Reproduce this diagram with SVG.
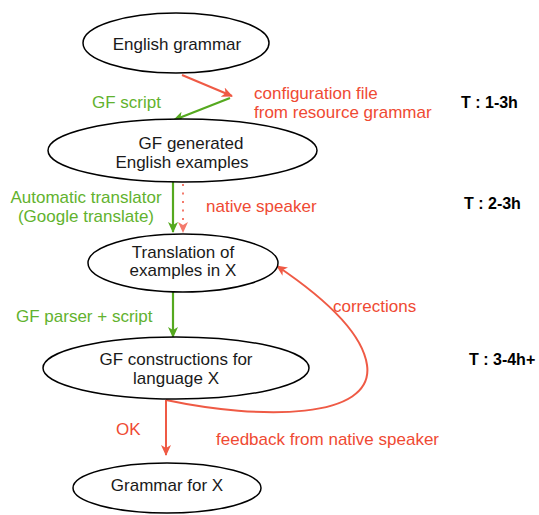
<svg xmlns="http://www.w3.org/2000/svg" width="539" height="515" viewBox="0 0 539 515">
<style>
.node ellipse{fill:#fff;stroke:#000;stroke-width:1.5}
.node text{font-family:"Liberation Sans",Arial,sans-serif;font-size:17px;fill:#1a1a1a;text-anchor:middle}
.lbl{font-family:"Liberation Sans",Arial,sans-serif;font-size:17px}
.red{fill:#ef4a33}
.green{fill:#62b22e}
.time{font-family:"Liberation Sans",Arial,sans-serif;font-size:16px;font-weight:bold;fill:#000}
.er{fill:none;stroke:#ef5a45;stroke-width:2}
.eg{fill:none;stroke:#55a91f;stroke-width:2.2}
</style>
<defs>
<marker id="ar" markerWidth="11" markerHeight="10" refX="10" refY="5" orient="auto" markerUnits="userSpaceOnUse">
<path d="M0,0 L11,5 L0,10 L3,5 z" fill="#ef5a45"/>
</marker>
<marker id="ag" markerWidth="11" markerHeight="10" refX="10" refY="5" orient="auto" markerUnits="userSpaceOnUse">
<path d="M0,0 L11,5 L0,10 L3,5 z" fill="#55a91f"/>
</marker>
<marker id="al" markerWidth="11" markerHeight="10" refX="10" refY="5" orient="auto" markerUnits="userSpaceOnUse">
<path d="M0,0 L11,5 L0,10 L3,5 z" fill="#f47a6c"/>
</marker>
</defs>

<g id="connectors">
<path class="er" d="M182,75 L232,96" marker-end="url(#ar)"/>
<path class="eg" d="M230,98 L174,120" marker-end="url(#ag)"/>
<path class="eg" d="M173,182 L173,232" marker-end="url(#ag)"/>
<path d="M183,184 L183,232" fill="none" stroke="#f47a6c" stroke-width="2" stroke-dasharray="2 6.5" marker-end="url(#al)"/>
<path class="eg" d="M173,292 L173,337" marker-end="url(#ag)"/>
<path class="er" d="M166,400 L166,455" marker-end="url(#ar)"/>
<path class="er" d="M166,400 C260,420 375,420 367,365 C362,330 320,295 277,266" marker-end="url(#ar)"/>
</g>

<g id="english-grammar" class="node">
<ellipse cx="176" cy="43" rx="93" ry="30"/>
<text x="177" y="50">English grammar</text>
</g>
<g id="gf-generated" class="node">
<ellipse cx="182.5" cy="150.5" rx="134.5" ry="31.5"/>
<text x="191" y="149">GF generated</text>
<text x="182" y="168">English examples</text>
</g>
<g id="translation" class="node">
<ellipse cx="183" cy="263" rx="95" ry="29"/>
<text x="183" y="258">Translation of</text>
<text x="183" y="276">examples in X</text>
</g>
<g id="gf-constructions" class="node">
<ellipse cx="176" cy="368" rx="133" ry="31"/>
<text x="176" y="365">GF constructions for</text>
<text x="176" y="384">language X</text>
</g>
<g id="grammar-x" class="node">
<ellipse cx="167" cy="488" rx="94" ry="25"/>
<text x="167" y="491">Grammar for X</text>
</g>

<g id="labels">
<text class="lbl green" x="92" y="108">GF script</text>
<text class="lbl red" x="254" y="99">configuration file</text>
<text class="lbl red" x="254" y="118">from resource grammar</text>
<text class="time" x="461" y="108">T : 1-3h</text>
<text class="lbl green" x="86" y="203" text-anchor="middle">Automatic translator</text>
<text class="lbl green" x="86" y="222" text-anchor="middle">(Google translate)</text>
<text class="lbl red" x="206" y="212">native speaker</text>
<text class="time" x="464" y="209">T : 2-3h</text>
<text class="lbl green" x="16" y="322">GF parser + script</text>
<text class="lbl red" x="333" y="312">corrections</text>
<text class="time" x="469" y="365">T : 3-4h+</text>
<text class="lbl red" x="116" y="435">OK</text>
<text class="lbl red" x="216" y="445">feedback from native speaker</text>
</g>
</svg>
